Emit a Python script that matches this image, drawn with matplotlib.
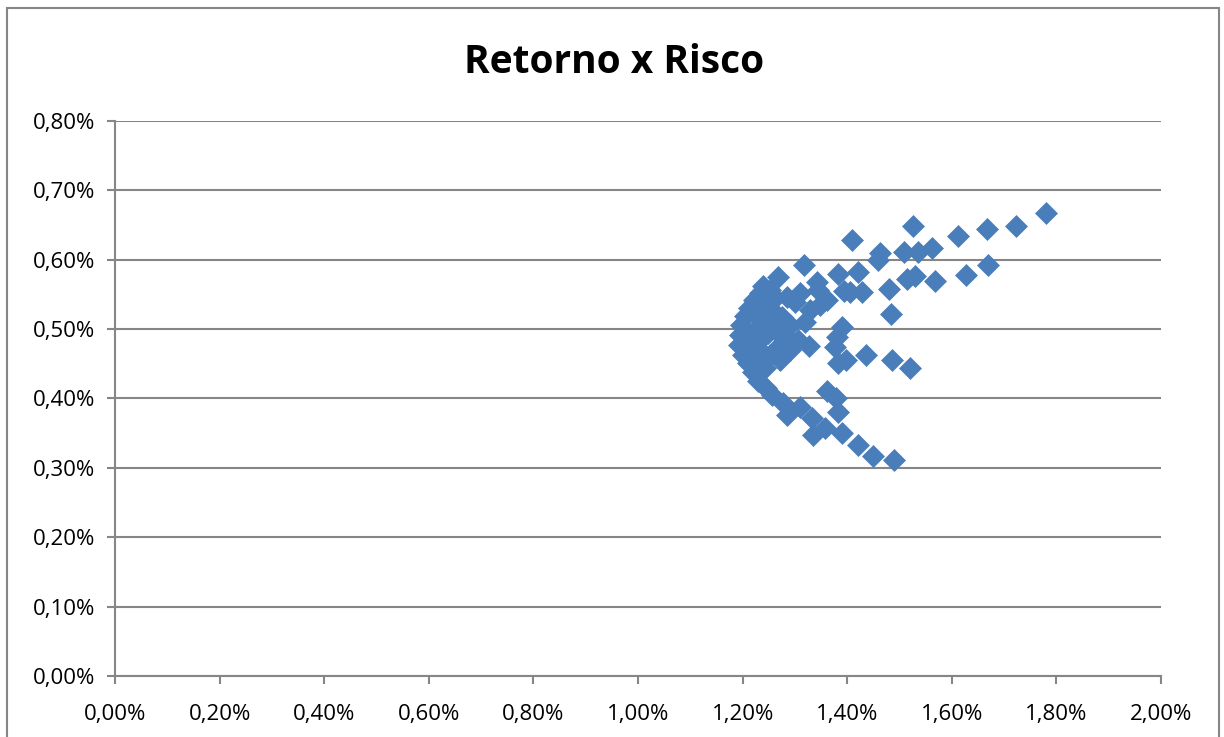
import matplotlib.pyplot as plt
from matplotlib.ticker import FuncFormatter
from matplotlib.patches import Rectangle

# risco (x) e retorno (y), em %
risco = [1.780, 1.723, 1.667, 1.612, 1.562, 1.526, 1.535, 1.509, 1.463, 1.409,
         1.459, 1.669, 1.627, 1.568, 1.530, 1.514, 1.480, 1.484, 1.421, 1.428,
         1.394, 1.405, 1.382, 1.317, 1.268, 1.239, 1.342, 1.344, 1.361, 1.310,
         1.285, 1.329, 1.275, 1.390, 1.380, 1.262, 1.300, 1.252,
         1.520, 1.486, 1.436, 1.398, 1.382, 1.377, 1.327, 1.306, 1.291, 1.272,
         1.252, 1.319,
         1.489, 1.449, 1.421, 1.390, 1.358, 1.335, 1.382, 1.333, 1.310, 1.285,
         1.361, 1.379, 1.277, 1.256,
         1.195, 1.193, 1.197, 1.201, 1.205, 1.210, 1.212, 1.220, 1.222, 1.229,
         1.233, 1.245,
         1.224, 1.233, 1.243, 1.262, 1.233, 1.281, 1.291, 1.239, 1.229, 1.249,
         1.214, 1.224, 1.243, 1.272, 1.348, 1.252]
retorno = [0.667, 0.649, 0.644, 0.634, 0.617, 0.649, 0.611, 0.611, 0.610, 0.628,
           0.600, 0.592, 0.578, 0.569, 0.577, 0.572, 0.558, 0.522, 0.582, 0.554,
           0.555, 0.554, 0.579, 0.592, 0.575, 0.562, 0.568, 0.556, 0.542, 0.552,
           0.546, 0.528, 0.517, 0.503, 0.489, 0.545, 0.539, 0.530,
           0.444, 0.455, 0.463, 0.455, 0.451, 0.474, 0.476, 0.484, 0.470, 0.477,
           0.463, 0.510,
           0.311, 0.317, 0.333, 0.350, 0.357, 0.347, 0.381, 0.372, 0.388, 0.376,
           0.411, 0.401, 0.394, 0.405,
           0.492, 0.477, 0.506, 0.463, 0.519, 0.451, 0.530, 0.438, 0.542, 0.425,
           0.552, 0.415,
           0.499, 0.484, 0.513, 0.499, 0.470, 0.492, 0.506, 0.530, 0.516, 0.494,
           0.477, 0.458, 0.444, 0.455, 0.535, 0.556]

x_ticks = [0.0, 0.2, 0.4, 0.6, 0.8, 1.0, 1.2, 1.4, 1.6, 1.8, 2.0]
y_ticks = [0.0, 0.1, 0.2, 0.3, 0.4, 0.5, 0.6, 0.7, 0.8]

plt.rcParams['font.family'] = ['Open Sans', 'DejaVu Sans']
cinza = '#868686'

fig = plt.figure(figsize=(12.24, 7.37), dpi=100)
ax = fig.add_axes([0.094, 0.0828, 0.8546, 0.753])

ax.scatter(risco, retorno, marker='D', s=125, color='#4A7EBB',
           edgecolors='#4A7EBB', linewidths=0.5, zorder=3)

ax.set_xlim(0, 2.0)
ax.set_ylim(0, 0.8)
ax.set_xticks(x_ticks)
ax.set_yticks(y_ticks)
fmt = FuncFormatter(lambda v, p: ('%.2f%%' % v).replace('.', ','))
ax.xaxis.set_major_formatter(fmt)
ax.yaxis.set_major_formatter(fmt)
ax.tick_params(labelsize=16, colors=cinza, labelcolor='black', length=6,
               width=1.5, direction='out')
ax.tick_params(axis='x', pad=14)
ax.tick_params(axis='y', pad=8)

ax.yaxis.grid(True, color=cinza, linewidth=1.5)
ax.set_axisbelow(True)
for s in ['top', 'right']:
    ax.spines[s].set_visible(False)
for s in ['left', 'bottom']:
    ax.spines[s].set_color(cinza)
    ax.spines[s].set_linewidth(1.5)

fig.text(0.502, 0.915, 'Retorno x Risco', ha='center', va='center',
         fontsize=28, fontweight='bold')

fig.patches.append(Rectangle((0.006, -0.01), 0.99, 0.999, transform=fig.transFigure,
                             fill=False, edgecolor=cinza, linewidth=1.5))

fig.savefig('out.png', dpi=100)
